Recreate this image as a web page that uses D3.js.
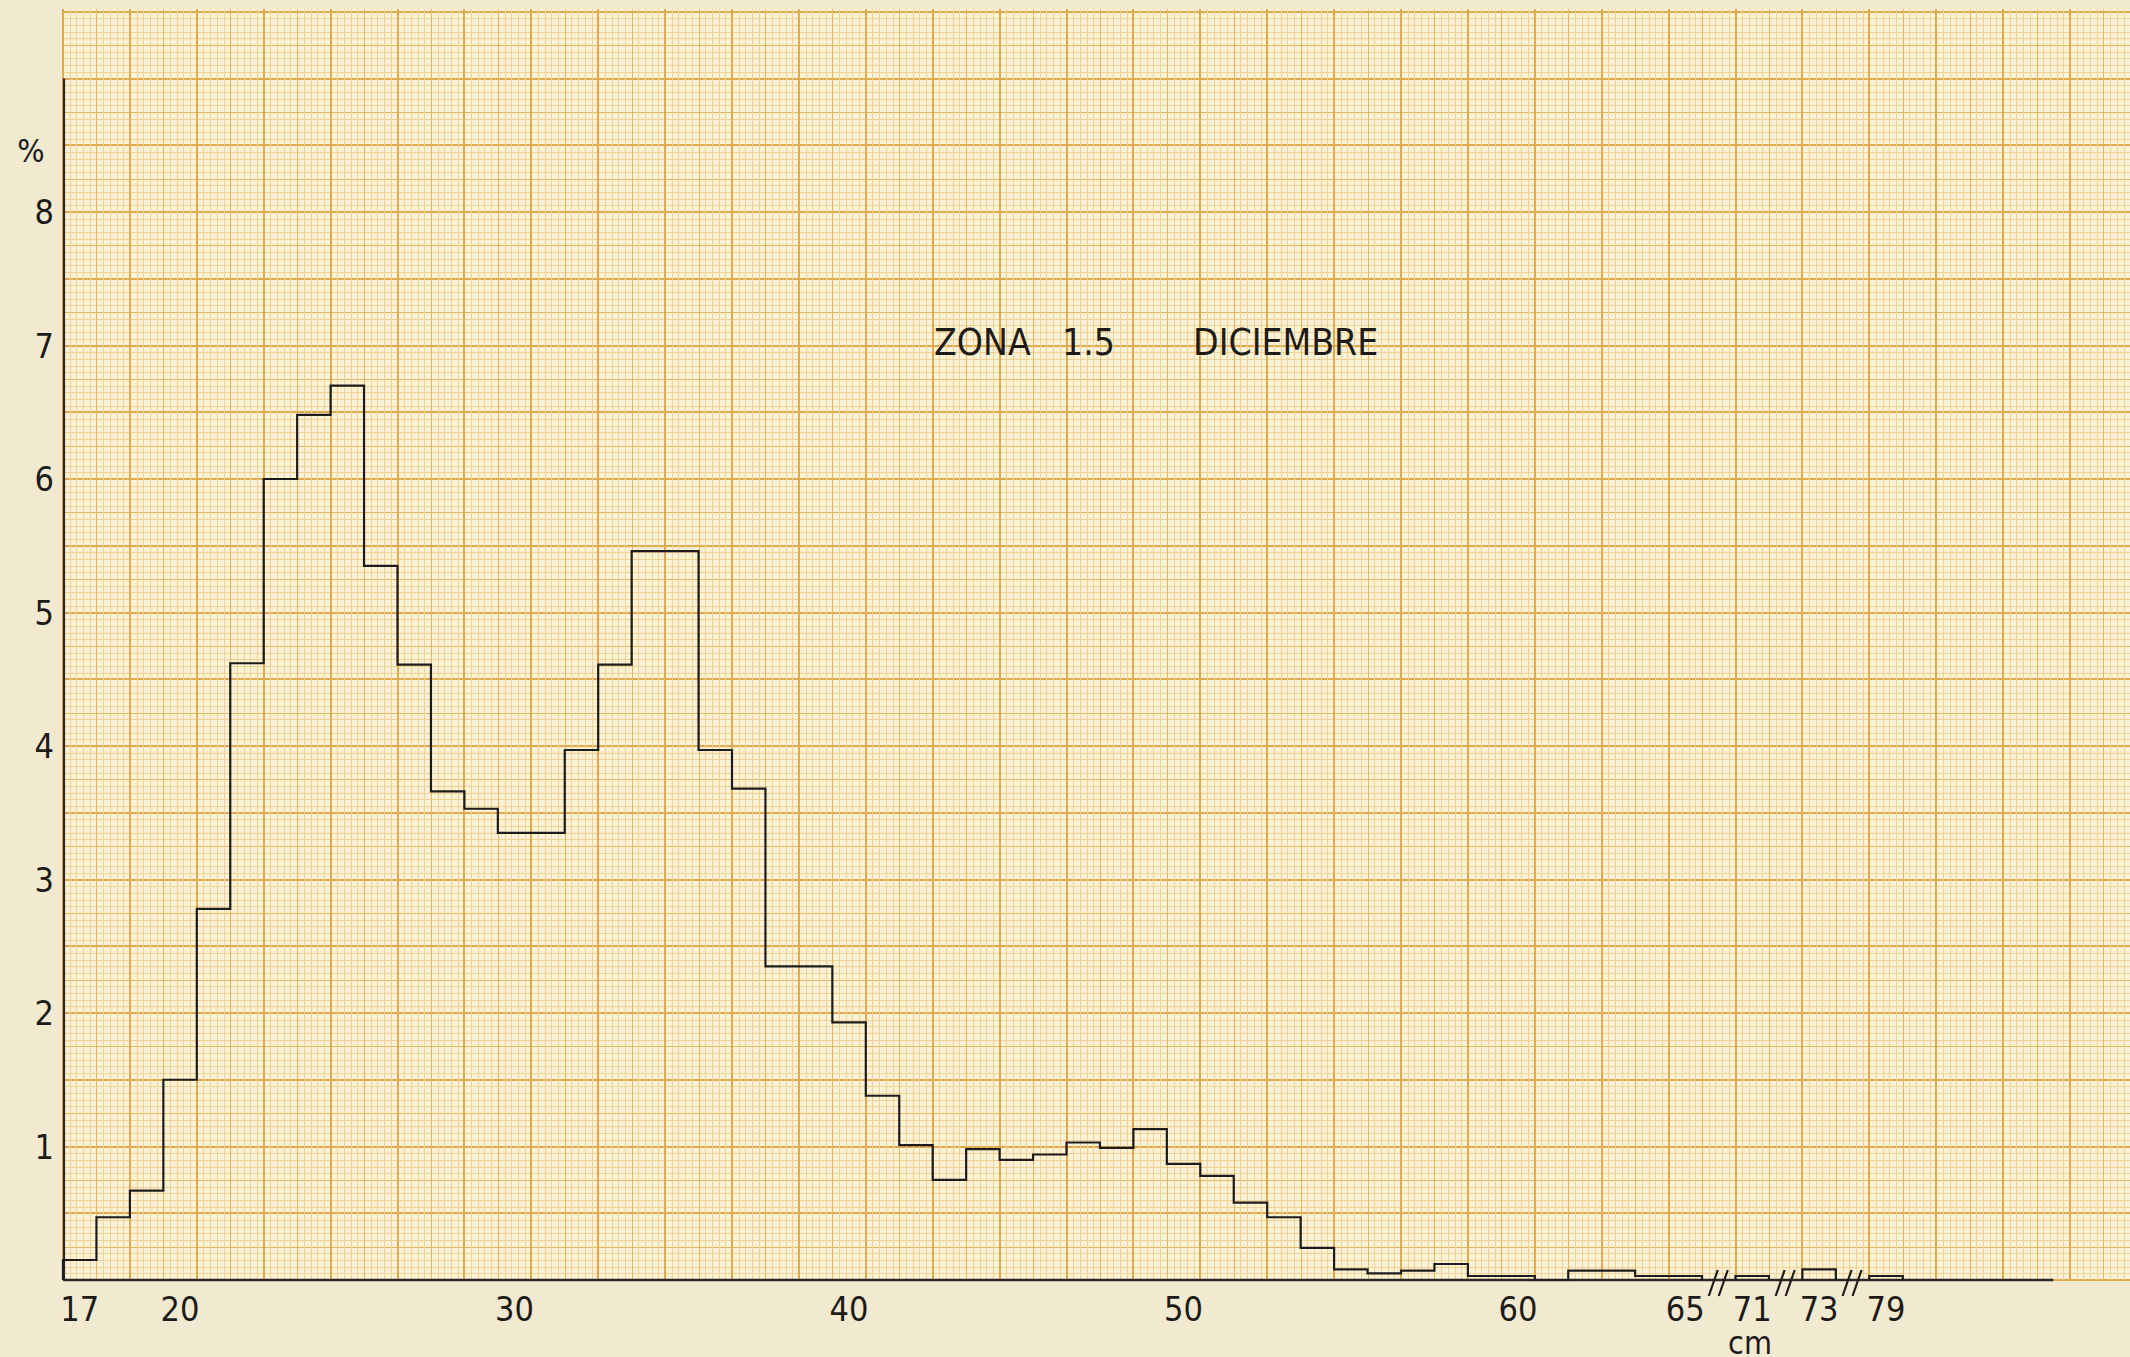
<!DOCTYPE html>
<html>
<head>
<meta charset="utf-8">
<title>Zona 1.5 - Diciembre</title>
<script src="https://cdn.jsdelivr.net/npm/d3@7"></script>
<style>
  body { margin: 0; background: #f1ead1; }
  svg { display: block; }
  .label {
    font-family: "DejaVu Sans Condensed", "DejaVu Sans", sans-serif;
    font-stretch: condensed;
    fill: #1d1b18;
  }
</style>
</head>
<body>
<div id="chart"></div>
<script>
// talla (cm) y porcentaje de cada clase
const tallas = [17, 18, 19, 20, 21, 22, 23, 24, 25, 26, 27, 28, 29, 30, 31, 32, 33, 34, 35, 36,
  37, 38, 39, 40, 41, 42, 43, 44, 45, 46, 47, 48, 49, 50, 51, 52, 53, 54, 55, 56,
  57, 58, 59, 60, 61, 62, 63, 64, 65, 71, 73, 79]
const porcentajes = [0.15, 0.47, 0.67, 1.50, 2.78, 4.62, 6.00, 6.48, 6.70, 5.35, 4.61, 3.66, 3.53, 3.35, 3.35, 3.97, 4.61, 5.46, 5.46, 3.97,
  3.68, 2.35, 2.35, 1.93, 1.38, 1.01, 0.75, 0.98, 0.90, 0.94, 1.03, 0.99, 1.13, 0.87, 0.78, 0.58, 0.47, 0.24, 0.08, 0.05,
  0.07, 0.12, 0.03, 0.03, 0, 0.07, 0.07, 0.03, 0.03, 0.03, 0.08, 0.03]

const xTickLabels = [17, 20, 30, 40, 50, 60, 65, 71, 73, 79]
const yTickLabels = [1, 2, 3, 4, 5, 6, 7, 8]
const axisBreaks = [68, 72, 76]   // "//" marks between 65-71, 71-73, 73-79
const titleParts = ["ZONA", "1.5", "DICIEMBRE"]
const xUnit = "cm"
const yUnit = "%"

function drawChart() {

  // Set dimensions
  let dimensions = {
    width: 2130,
    height: 1357,
    margin: { top: 9, left: 63 },
    baseline: 1280,
    binWidth: 33.45,     // 1 cm of fish = 5 mm of paper
    unitHeight: 133.5,   // 1 % = 2 cm of paper
  }

  const svg = d3.select("#chart")
    .append("svg")
    .attr("width", dimensions.width)
    .attr("height", dimensions.height)

  // Scales
  // paper scale: continuous, in "slots" of one class each
  const paperX = d3.scaleLinear()
    .domain([16.5, 17.5])
    .range([dimensions.margin.left, dimensions.margin.left + dimensions.binWidth])

  // broken x axis: 66-70, 72, 74-78 squeezed into one slot each
  const breakDomain = [16.5, 65.5, 70.5, 71.5, 72.5, 73.5, 78.5, 79.5, 84]
  const breakSlots = [16.5, 65.5, 66.5, 67.5, 68.5, 69.5, 70.5, 71.5, 76]
  const xScale = d3.scaleLinear()
    .domain(breakDomain)
    .range(breakSlots.map(paperX))

  const yScale = d3.scaleLinear()
    .domain([0, 1])
    .range([dimensions.baseline, dimensions.baseline - dimensions.unitHeight])

  // Graph paper
  const paperTop = dimensions.margin.top
  const paper = svg.append("g")
  paper.append("rect")
    .attr("x", dimensions.margin.left)
    .attr("y", paperTop)
    .attr("width", dimensions.width - dimensions.margin.left)
    .attr("height", dimensions.baseline + 1 - paperTop)
    .attr("fill", "#fbf2d6")

  // mm / 5 mm / cm lines
  const lineStyle = k => k % 10 == 0 ? ["#e2aa4e", 2]
    : k % 5 == 0 ? ["#e7b65e", 1]
    : ["#f1d296", 1]

  const hLines = d3.range(0, Math.floor(yScale.invert(paperTop) / 0.05) + 1)
  paper.selectAll(".hline")
    .data(hLines)
    .enter().append("line")
    .attr("x1", dimensions.margin.left)
    .attr("x2", dimensions.width)
    .attr("y1", k => Math.round(yScale(k * 0.05)))
    .attr("y2", k => Math.round(yScale(k * 0.05)))
    .attr("stroke", k => lineStyle(k)[0])
    .attr("stroke-width", k => lineStyle(k)[1])
    .attr("shape-rendering", "crispEdges")

  const vLines = d3.range(0, Math.ceil((paperX.invert(dimensions.width) - 16.5) / 0.2))
  paper.selectAll(".vline")
    .data(vLines)
    .enter().append("line")
    .attr("x1", k => Math.round(paperX(16.5 + k * 0.2)))
    .attr("x2", k => Math.round(paperX(16.5 + k * 0.2)))
    .attr("y1", paperTop)
    .attr("y2", dimensions.baseline)
    .attr("stroke", k => lineStyle(k)[0])
    .attr("stroke-width", k => lineStyle(k)[1])
    .attr("shape-rendering", "crispEdges")

  // Axes
  svg.append("line")
    .attr("x1", xScale(16.5) + 1)
    .attr("x2", xScale(16.5) + 1)
    .attr("y1", yScale(0))
    .attr("y2", yScale(9))
    .attr("stroke", "#2a2724")
    .attr("stroke-width", 2.2)

  svg.append("line")
    .attr("x1", xScale(16.5))
    .attr("x2", xScale(84))
    .attr("y1", yScale(0))
    .attr("y2", yScale(0))
    .attr("stroke", "#2a2724")
    .attr("stroke-width", 2.6)

  // Histogram outline, one path per run of consecutive classes
  const data = tallas.map((t, i) => ({ talla: t, pct: porcentajes[i] }))
  const runs = []
  data.forEach((d, i) => {
    if (i == 0 || d.talla != data[i - 1].talla + 1) runs.push([])
    runs[runs.length - 1].push(d)
  })

  const lineGenerator = d3.line()
    .x(p => xScale(p[0]))
    .y(p => yScale(p[1]))

  svg.selectAll(".run")
    .data(runs)
    .enter().append("path")
    .attr("class", "run")
    .attr("d", run => {
      const pts = [[run[0].talla - 0.5, 0]]
      run.forEach(d => {
        pts.push([d.talla - 0.5, d.pct])
        pts.push([d.talla + 0.5, d.pct])
      })
      pts.push([run[run.length - 1].talla + 0.5, 0])
      return lineGenerator(pts)
    })
    .attr("fill", "none")
    .attr("stroke", "#1e1c1a")
    .attr("stroke-width", 2.2)

  // Axis break marks
  const breakG = svg.selectAll(".break")
    .data(axisBreaks)
    .enter().append("g")
    .attr("transform", d => `translate(${xScale(d)}, ${yScale(0)})`)
  breakG.selectAll("line")
    .data([-5, 5])
    .enter().append("line")
    .attr("x1", dx => dx - 5)
    .attr("y1", 16)
    .attr("x2", dx => dx + 4)
    .attr("y2", -10)
    .attr("stroke", "#1e1c1a")
    .attr("stroke-width", 2.2)

  // Tick labels
  svg.selectAll(".xlabel")
    .data(xTickLabels)
    .enter().append("text")
    .attr("class", "label")
    .attr("x", d => xScale(d))
    .attr("y", yScale(0) + 41)
    .attr("text-anchor", "middle")
    .style("font-size", "34px")
    .text(d => d)

  svg.selectAll(".ylabel")
    .data(yTickLabels)
    .enter().append("text")
    .attr("class", "label")
    .attr("x", 54)
    .attr("y", d => yScale(d) + 12)
    .attr("text-anchor", "end")
    .style("font-size", "34px")
    .text(d => d)

  svg.append("text")
    .attr("class", "label")
    .attr("x", 31)
    .attr("y", yScale(8) - 50)
    .attr("text-anchor", "middle")
    .style("font-size", "32px")
    .text(yUnit)

  svg.append("text")
    .attr("class", "label")
    .attr("x", 1750)
    .attr("y", 1354)
    .attr("text-anchor", "middle")
    .style("font-size", "32px")
    .text(xUnit)

  // Title
  const titleX = [934, 1062, 1193]
  svg.selectAll(".title")
    .data(titleParts)
    .enter().append("text")
    .attr("class", "label")
    .attr("x", (d, i) => titleX[i])
    .attr("y", 355)
    .style("font-size", "37px")
    .text(d => d)
}
drawChart()
</script>
</body>
</html>
